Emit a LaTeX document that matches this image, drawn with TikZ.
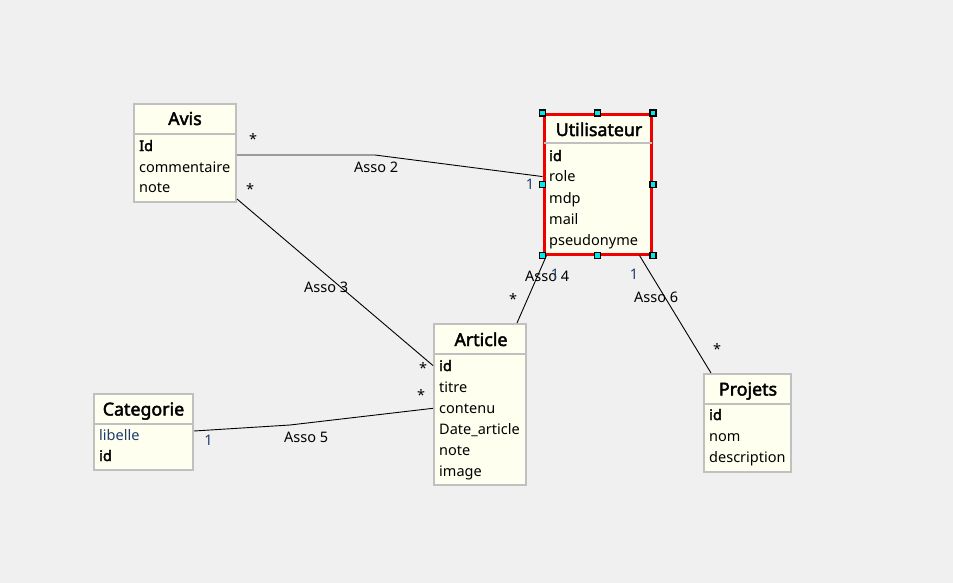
\documentclass[tikz,border=0pt]{standalone}
\usepackage{fontspec}
\setmainfont{Noto Sans}[AutoFakeBold=2.4]
\usetikzlibrary{calc}

\definecolor{canvas}{HTML}{F0F0F0}
\definecolor{ivory}{HTML}{FFFFF0}
\definecolor{framegray}{HTML}{C0C0C0}
\definecolor{ink}{HTML}{000000}
\definecolor{navyink}{HTML}{1E3C6E}
\definecolor{selred}{HTML}{F00000}
\definecolor{handlecyan}{HTML}{00E8E8}

\tikzset{
  entity/.style={draw=framegray, line width=2pt, fill=ivory, inner sep=0pt},
  selected/.style={draw=selred, line width=3pt, fill=ivory, inner sep=0pt},
  divider/.style={draw=framegray, line width=2pt},
  title/.style={anchor=base, inner sep=0pt, text=ink, font=\fontsize{17.8}{20}\selectfont\bfseries},
  attr/.style={anchor=base west, inner sep=0pt, text=ink, font=\fontsize{14.5}{17}\selectfont},
  keyattr/.style={attr, font=\fontsize{14.5}{17}\selectfont\bfseries},
  link/.style={draw=black, line width=0.9pt},
  lbl/.style={anchor=base west, inner sep=0pt, text=ink, font=\fontsize{14.5}{17}\selectfont},
  mult/.style={anchor=center, inner sep=0pt, text=ink, font=\fontsize{14.5}{17}\selectfont},
  multone/.style={mult, text=navyink},
  handle/.style={draw=black, line width=1.2pt, fill=handlecyan, minimum size=6pt, inner sep=0pt},
}

\begin{document}
\begin{tikzpicture}[x=1pt, y=-1pt]
  \fill[canvas] (0,0) rectangle (953,583);
  \useasboundingbox (0,0) rectangle (953,583);

  % ---------- Avis ----------
  \node[entity, minimum width=102pt, minimum height=98pt] (avis) at (185,153) {};
  \draw[divider] (avis.west |- 0,134) -- (avis.east |- 0,134);
  \node[title] (avis-t) at (185,125) {Avis};
  \node[keyattr] (avis-a1) at (139,151) {Id};
  \node[attr] (avis-a2) at (139,172) {commentaire};
  \node[attr] (avis-a3) at (139,193) {note};

  % ---------- Categorie ----------
  \node[entity, minimum width=99pt, minimum height=76pt] (categorie) at (143.5,432) {};
  \draw[divider] (categorie.west |- 0,424) -- (categorie.east |- 0,424);
  \node[title] (categorie-t) at (143.5,415.5) {Categorie};
  \node[attr, text=navyink] (categorie-a1) at (99,440) {libelle};
  \node[keyattr] (categorie-a2) at (99,461) {id};

  % ---------- Article ----------
  \node[entity, minimum width=92pt, minimum height=160.5pt] (article) at (480,404.25) {};
  \draw[divider] (article.west |- 0,354) -- (article.east |- 0,354);
  \node[title] (article-t) at (481,346) {Article};
  \node[keyattr] (article-a1) at (439,371) {id};
  \node[attr] (article-a2) at (439,392) {titre};
  \node[attr] (article-a3) at (439,413) {contenu};
  \node[attr] (article-a4) at (439,434) {Date\_article};
  \node[attr] (article-a5) at (439,455) {note};
  \node[attr] (article-a6) at (439,476) {image};

  % ---------- Projets ----------
  \node[entity, minimum width=87pt, minimum height=98pt] (projets) at (747.5,423) {};
  \draw[divider] (projets.west |- 0,404) -- (projets.east |- 0,404);
  \node[title] (projets-t) at (748,395.5) {Projets};
  \node[keyattr] (projets-a1) at (709,420) {id};
  \node[attr] (projets-a2) at (709,441.5) {nom};
  \node[attr] (projets-a3) at (709,462.5) {description};

  % ---------- Utilisateur (selected) ----------
  \node[selected, minimum width=107.5pt, minimum height=139.5pt] (util) at (597.75,184.25) {};
  \draw[divider] ($(util.west |- 0,143)+(1.5,0)$) -- ($(util.east |- 0,143)+(-1.5,0)$);
  \node[title] (util-t) at (599,136) {Utilisateur};
  \node[keyattr] (util-a1) at (549,161) {id};
  \node[attr] (util-a2) at (549,182) {role};
  \node[attr] (util-a3) at (549,203) {mdp};
  \node[attr] (util-a4) at (549,224) {mail};
  \node[attr] (util-a5) at (549,245) {pseudonyme};

  % ---------- Associations ----------
  % Asso 2 : Avis -- Utilisateur
  \coordinate (b2) at (375,155);
  \draw[link] (avis.east |- b2) -- (b2) -- (util.west |- util-a2);
  % Asso 3 : Avis -- Article
  \draw[link] ($(avis.south east)+(0,-4)$) -- (article.west |- article-a1);
  % Asso 5 : Categorie -- Article
  \coordinate (b5) at (290,425);
  \draw[link] ($(categorie.east)+(0,-1)$) -- (b5) -- (article.west |- article-a3);
  % Asso 4 : Utilisateur -- Article
  \draw[link] ($(util.south west)+(4,0)$) -- ($(article.north east)+(-10,0)$);
  % Asso 6 : Utilisateur -- Projets
  \draw[link] ($(util.south east)+(-13.5,0)$) -- ($(projets.north west)+(8,0)$);

  % ---------- Labels and multiplicities ----------
  \node[mult] (m-avis-2) at (253,139) {*};
  \node[lbl] (asso2) at (354,172) {Asso 2};
  \node[multone] (m-util-2) at (530,184.5) {1};

  \node[mult] (m-avis-3) at (250,189) {*};
  \node[lbl] (asso3) at (304,292) {Asso 3};
  \node[mult] (m-art-3) at (423,368) {*};

  \node[multone] (m-cat-5) at (208.5,440) {1};
  \node[lbl] (asso5) at (284,442) {Asso 5};
  \node[mult] (m-art-5) at (421,395) {*};

  \node[mult] (m-art-4) at (513,299) {*};
  \node[lbl] (asso4) at (525,281) {Asso 4};
  \node[multone] (m-util-4) at (555,274) {1};

  \node[multone] (m-util-6) at (634,274.5) {1};
  \node[lbl] (asso6) at (634,302) {Asso 6};
  \node[mult] (m-proj-6) at (717,349) {*};

  % ---------- Selection handles ----------
  \node[handle] (h-nw) at (util.north west) {};
  \node[handle] (h-n)  at (util.north) {};
  \node[handle] (h-ne) at (util.north east) {};
  \node[handle] (h-w)  at (util.west) {};
  \node[handle] (h-e)  at (util.east) {};
  \node[handle] (h-sw) at (util.south west) {};
  \node[handle] (h-s)  at (util.south) {};
  \node[handle] (h-se) at (util.south east) {};
\end{tikzpicture}
\end{document}
